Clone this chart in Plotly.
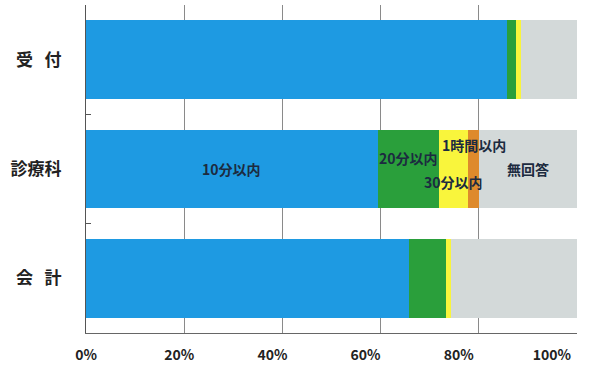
import plotly.graph_objects as go

# Waiting-time survey: share of responses per counter
categories = ["受\u00a0\u00a0\u00a0付", "診療科", "会\u00a0\u00a0\u00a0計"]
series_names = ["10分以内", "20分以内", "30分以内", "1時間以内", "無回答"]
v_10min = [85.7, 59.4, 65.7]
v_20min = [1.9, 12.4, 7.6]
v_30min = [1.0, 6.1, 1.0]
v_1hour = [0.0, 2.1, 0.0]
v_noans = [11.4, 20.0, 25.7]
colors = ["#1e9ae2", "#2a9f3b", "#f9f53c", "#de8a2c", "#d3d9d9"]
x_ticks = [0, 20, 40, 60, 80, 100]
x_tick_text = ["0%", "20%", "40%", "60%", "80%", "100%"]

series = [v_10min, v_20min, v_30min, v_1hour, v_noans]

fig = go.Figure()
for name, vals, col in zip(series_names, series, colors):
    fig.add_trace(go.Bar(
        y=categories, x=vals, name=name, orientation="h",
        marker=dict(color=col, line=dict(width=0)),
        hoverinfo="x+name",
    ))

# empty trace so the percentage label axis (x2) gets drawn
fig.add_trace(go.Scatter(x=[], y=[], xaxis="x2", yaxis="y", showlegend=False,
                         hoverinfo="skip"))

# Segment labels on the 診療科 bar, placed at each segment's centre
row = 1
label_shift = {"10分以内": 0, "20分以内": 11, "30分以内": -13, "1時間以内": 24, "無回答": 0}
cum = 0.0
for name, vals in zip(series_names, series):
    mid = cum + vals[row] / 2
    cum += vals[row]
    fig.add_annotation(
        x=mid, y=categories[row], text="<b>" + name + "</b>",
        showarrow=False, yshift=label_shift[name],
        font=dict(family="Noto Sans CJK JP", size=14, color="#1c2b40"),
    )

fig.update_layout(
    width=611, height=370,
    margin=dict(l=86, r=34, t=5, b=37),
    barmode="stack", bargap=0.28,
    showlegend=False,
    paper_bgcolor="white", plot_bgcolor="rgba(0,0,0,0)",
    font=dict(family="Noto Sans CJK JP", color="#222222"),
    xaxis=dict(
        range=[0, 100], tickvals=x_ticks, showticklabels=False,
        showgrid=True, gridcolor="#8a8a8a", gridwidth=1,
        showline=True, linecolor="#666666", linewidth=1,
        ticks="", zeroline=False,
    ),
    xaxis2=dict(
        domain=[0, 0.949], anchor="y", range=[0, 100],
        tickvals=x_ticks, ticktext=["<b>" + t + "</b>" for t in x_tick_text],
        tickfont=dict(size=14, color="#222222"),
        showgrid=False, showline=False, zeroline=False,
        ticks="", ticklabelstandoff=12, fixedrange=True,
    ),
)
fig.update_yaxes(
    categoryorder="array", categoryarray=categories, autorange="reversed",
    tickvals=categories, ticktext=["<b>" + c + "</b>" for c in categories],
    tickfont=dict(size=17, color="#222222"),
    showline=True, linecolor="#555555", linewidth=1,
    ticks="inside", tickson="boundaries", ticklen=5, tickcolor="#555555",
    ticklabelstandoff=20, showgrid=False,
)

fig.write_html("out.html")
